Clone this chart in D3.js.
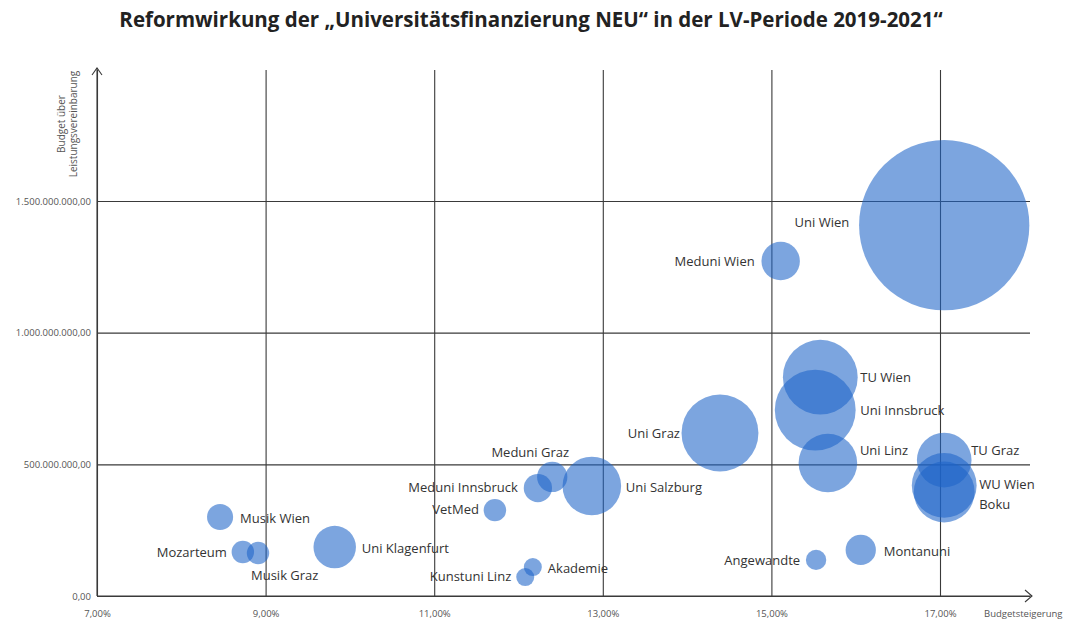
<!DOCTYPE html>
<html>
<head>
<meta charset="utf-8">
<script src="https://cdn.jsdelivr.net/npm/d3@7"></script>
<style>
  body { margin: 0; background: #fff; }
  svg { display: block; font-family: "Open Sans", sans-serif; }
</style>
</head>
<body>
<svg id="chart" width="1069" height="624"></svg>
<script>
// data
const unis = ["Uni Wien", "Meduni Wien", "TU Wien", "Uni Innsbruck", "Uni Linz", "Uni Graz",
  "TU Graz", "WU Wien", "Boku", "Uni Salzburg", "Meduni Graz", "Meduni Innsbruck", "VetMed",
  "Akademie", "Kunstuni Linz", "Musik Wien", "Mozarteum", "Musik Graz", "Uni Klagenfurt",
  "Angewandte", "Montanuni"];
const steigerung = [17.05, 15.11, 15.58, 15.52, 15.67, 14.39,
  17.05, 17.05, 17.05, 12.87, 12.40, 12.23, 11.72,
  12.17, 12.08, 8.46, 8.73, 8.91, 9.82,
  15.53, 16.06];
const budget = [1.408e9, 1.272e9, 0.831e9, 0.706e9, 0.505e9, 0.619e9,
  0.516e9, 0.420e9, 0.395e9, 0.418e9, 0.452e9, 0.41e9, 0.326e9,
  0.11e9, 0.072e9, 0.30e9, 0.167e9, 0.163e9, 0.186e9,
  0.137e9, 0.175e9];
const groesse = [98, 5.0, 18.9, 22.1, 11.6, 20.0,
  10.1, 14.2, 12.5, 11.6, 3.1, 2.7, 1.7,
  1.1, 1.1, 2.3, 1.7, 1.7, 6.1,
  1.4, 3.1];
const xTicks = [7, 9, 11, 13, 15, 17];
const yTicks = [0, 500000000, 1000000000, 1500000000];

// label placement (layout only)
const labelPos = {
  "Uni Wien": [-95, 2, "end"], "Meduni Wien": [-26, 5, "end"], "TU Wien": [40, 5, "start"],
  "Uni Innsbruck": [45, 5, "start"], "Uni Linz": [32, -8, "start"], "Uni Graz": [-40, 5, "end"],
  "TU Graz": [27, -5, "start"], "WU Wien": [35, 4, "start"], "Boku": [35, 17, "start"],
  "Uni Salzburg": [34, 6, "start"], "Meduni Graz": [-22, -20, "middle"],
  "Meduni Innsbruck": [-20, 4, "end"], "VetMed": [-16, 4, "end"], "Akademie": [15, 6, "start"],
  "Kunstuni Linz": [-14, 4, "end"], "Musik Wien": [20, 6, "start"], "Mozarteum": [-16, 5, "end"],
  "Musik Graz": [-7, 27, "start"], "Uni Klagenfurt": [27, 6, "start"],
  "Angewandte": [-16, 5, "end"], "Montanuni": [23, 6, "start"]
};

const data = unis.map((u, i) => ({name: u, x: steigerung[i], y: budget[i], s: groesse[i]}));

const svg = d3.select("#chart");
const mLeft = 97, mBottom = 596, mTop = 70, mRight = 1030;

const x = d3.scaleLinear().domain([7, 17]).range([mLeft, 940]);
const y = d3.scaleLinear().domain([0, 1.5e9]).range([mBottom, 201]);
const r = d3.scaleSqrt().domain([0, 100]).range([0, 86]);

const de = d3.formatLocale({decimal: ",", thousands: ".", grouping: [3], currency: ["", "€"]});
const fmtY = de.format(",.2f");
const fmtX = v => de.format(".2f")(v) + "%";

// title
svg.append("text")
  .attr("x", 531).attr("y", 27)
  .attr("text-anchor", "middle")
  .style("font-size", "20.5px").style("font-weight", "bold").style("fill", "#222")
  .text("Reformwirkung der \u201EUniversitätsfinanzierung NEU\u201C in der LV-Periode 2019-2021\u201C");

// grid via axes
const yAxis = svg.append("g")
  .attr("transform", `translate(${mLeft},0)`)
  .call(d3.axisLeft(y).tickValues(yTicks).tickFormat(fmtY).tickSize(-(mRight - mLeft)).tickPadding(6));
yAxis.select(".domain").remove();
yAxis.selectAll("line").attr("stroke", "#3a3a3a").attr("stroke-width", 1.1);
yAxis.selectAll("text").style("font-size", "9.5px").style("fill", "#555").style("font-family", "Open Sans, sans-serif");

const xAxis = svg.append("g")
  .attr("transform", `translate(0,${mBottom})`)
  .call(d3.axisBottom(x).tickValues(xTicks).tickFormat(fmtX).tickSize(-(mBottom - mTop)).tickPadding(14));
xAxis.select(".domain").remove();
xAxis.selectAll("line").attr("stroke", "#3a3a3a").attr("stroke-width", 1.1);
xAxis.selectAll("text").style("font-size", "9.5px").style("fill", "#555").style("font-family", "Open Sans, sans-serif");

// axis lines with arrows
svg.append("line").attr("x1", mLeft).attr("x2", mLeft).attr("y1", mBottom).attr("y2", mTop - 2)
  .attr("stroke", "#3a3a3a").attr("stroke-width", 1.1);
svg.append("line").attr("x1", mLeft).attr("x2", mRight + 2).attr("y1", mBottom).attr("y2", mBottom)
  .attr("stroke", "#3a3a3a").attr("stroke-width", 1.1);
svg.append("path").attr("d", `M${mLeft - 5},${mTop + 5} L${mLeft},${mTop - 2} L${mLeft + 5},${mTop + 5}`)
  .attr("fill", "none").attr("stroke", "#3a3a3a").attr("stroke-width", 1.1);
svg.append("path").attr("d", `M${mRight - 5},${mBottom - 6} L${mRight + 2},${mBottom} L${mRight - 5},${mBottom + 6}`)
  .attr("fill", "none").attr("stroke", "#3a3a3a").attr("stroke-width", 1.1);

// axis titles
const yt = svg.append("text")
  .attr("transform", `translate(65,124) rotate(-90)`)
  .attr("text-anchor", "middle")
  .style("font-size", "10px").style("fill", "#555");
yt.append("tspan").attr("x", 0).attr("dy", 0).text("Budget über");
yt.append("tspan").attr("x", 0).attr("dy", 12).text("Leistungsvereinbarung");

svg.append("text")
  .attr("x", 984).attr("y", 617)
  .style("font-size", "9.5px").style("fill", "#555")
  .text("Budgetsteigerung");

// bubbles
svg.append("g").selectAll("circle")
  .data(data)
  .join("circle")
  .attr("cx", d => x(d.x))
  .attr("cy", d => y(d.y))
  .attr("r", d => r(d.s))
  .attr("fill", "#1e64c8")
  .attr("fill-opacity", 0.58);

// labels
svg.append("g").selectAll("text")
  .data(data)
  .join("text")
  .attr("x", d => x(d.x) + labelPos[d.name][0])
  .attr("y", d => y(d.y) + labelPos[d.name][1])
  .attr("text-anchor", d => labelPos[d.name][2])
  .style("font-size", "13px").style("fill", "#333")
  .text(d => d.name);
</script>
</body>
</html>
